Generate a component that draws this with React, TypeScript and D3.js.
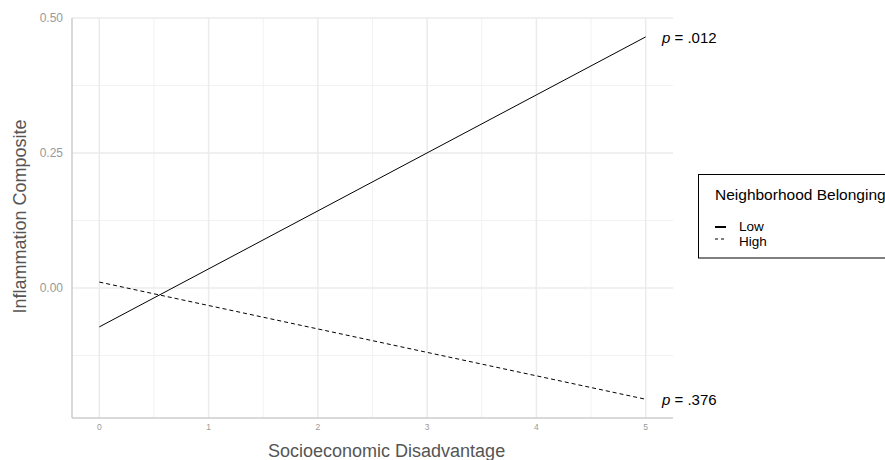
import React from "react";
import * as d3 from "d3";

const xTicks = [0, 1, 2, 3, 4, 5];
const yTicks = [0.0, 0.25, 0.5];
const yTickLabels = ["0.00", "0.25", "0.50"];
const seriesNames = ["Low", "High"];
const lowValues: [number, number][] = [[0, -0.072], [5, 0.465]];
const highValues: [number, number][] = [[0, 0.011], [5, -0.206]];
const pLabels = ["= .012", "= .376"];

const W = 885, H = 460;
const left = 72, right = 673, top = 18, bottom = 418;

export default function App() {
  const x = d3.scaleLinear().domain([-0.25, 5.25]).range([left, right]);
  const y = d3.scaleLinear().domain([-0.2407, 0.5]).range([bottom, top]);
  const line = d3.line<[number, number]>().x(d => x(d[0])).y(d => y(d[1]));
  const xMinor = d3.range(-0.5, 5.6, 1).filter(v => v > -0.25 && v < 5.25);
  const yMinor = [-0.125, 0.125, 0.375];
  const font = "Liberation Sans, Arial, sans-serif";
  const series = [lowValues, highValues];
  return (
    <svg width={W} height={H} style={{ position: "absolute", left: 0, top: 0 }} fontFamily={font}>
      <rect width={W} height={H} fill="#fff" />
      {xMinor.map(v => (
        <line key={"xm" + v} x1={x(v)} x2={x(v)} y1={top} y2={bottom} stroke="#f2f2f2" strokeWidth={1} />
      ))}
      {yMinor.map(v => (
        <line key={"ym" + v} x1={left} x2={right} y1={y(v)} y2={y(v)} stroke="#f2f2f2" strokeWidth={1} />
      ))}
      {xTicks.map(v => (
        <line key={"xg" + v} x1={x(v)} x2={x(v)} y1={top} y2={bottom} stroke="#ebebeb" strokeWidth={1.5} />
      ))}
      {yTicks.map(v => (
        <line key={"yg" + v} x1={left} x2={right} y1={y(v)} y2={y(v)} stroke="#ebebeb" strokeWidth={1.5} />
      ))}
      <line x1={left} x2={left} y1={top} y2={bottom} stroke="#cccccc" strokeWidth={1.5} />
      <line x1={left} x2={right} y1={bottom} y2={bottom} stroke="#cccccc" strokeWidth={1.5} />
      {yTicks.map((v, i) => (
        <text key={"yt" + v} x={63} y={y(v) + 4} textAnchor="end" fontSize={12} fill="#999">{yTickLabels[i]}</text>
      ))}
      {xTicks.map(v => (
        <text key={"xt" + v} x={x(v)} y={430} textAnchor="middle" fontSize={8.5} fill="#999">{v}</text>
      ))}
      {series.map((s, i) => (
        <path key={seriesNames[i]} d={line(s) || ""} fill="none" stroke="#000" strokeWidth={1}
          strokeDasharray={i === 1 ? "4,3" : undefined} />
      ))}
      {series.map((s, i) => (
        <text key={"p" + i} x={662} y={y(s[1][1]) + 6} fontSize={15} fill="#000">
          <tspan fontStyle="italic">p</tspan> {pLabels[i]}
        </text>
      ))}
      <text x={268} y={457} textAnchor="start" fontSize={18} fill="#555">Socioeconomic Disadvantage</text>
      <text transform={`translate(26,216.5) rotate(-90)`} textAnchor="middle" fontSize={18} fill="#555">Inflammation Composite</text>
      <rect x={698.5} y={174.5} width={200} height={83.5} fill="#fff" stroke="#000" strokeWidth={1} />
      <text x={715} y={200} fontSize={15.5} fill="#000">Neighborhood Belonging</text>
      {seriesNames.map((n, i) => (
        <g key={"lg" + n}>
          <line x1={715} x2={726} y1={227 + i * 12} y2={227 + i * 12} stroke="#000"
            strokeWidth={i === 0 ? 2 : 1} strokeDasharray={i === 1 ? "3,3" : undefined} />
          <text x={739} y={231 + i * 15} fontSize={13.5} fill="#000">{n}</text>
        </g>
      ))}
    </svg>
  );
}
